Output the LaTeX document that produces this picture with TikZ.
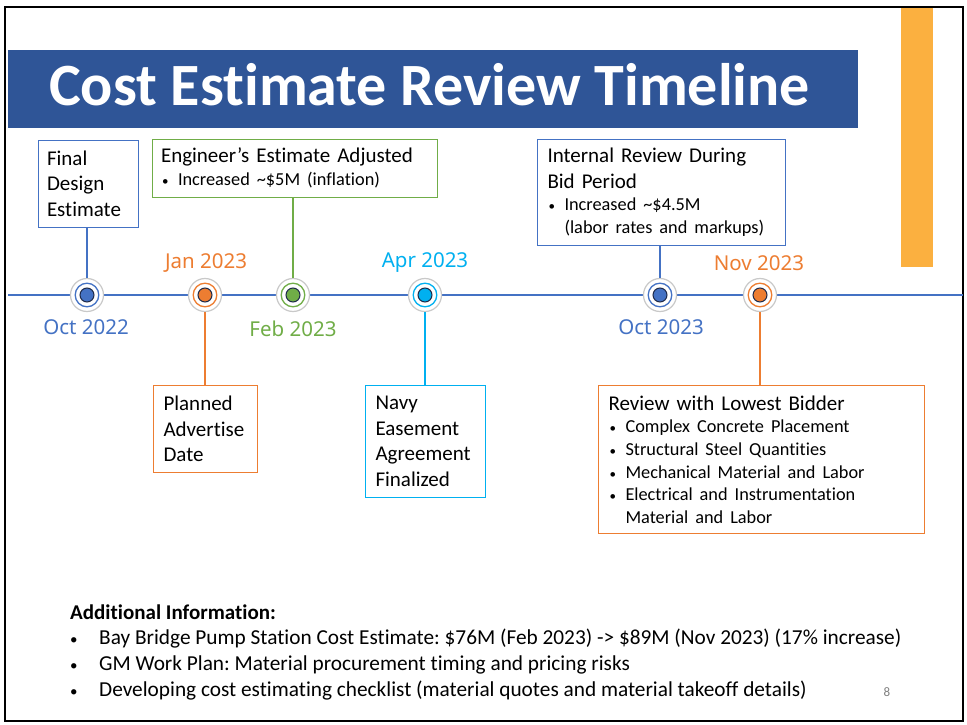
\documentclass[tikz,border=0pt]{standalone}
\usepackage{fontspec}
\setmainfont{Carlito}[Ligatures={NoCommon}]
\newfontfamily\datefont{Noto Sans}
\definecolor{cblue}{HTML}{4472C4}
\definecolor{corange}{HTML}{ED7D31}
\definecolor{cgreen}{HTML}{70AD47}
\definecolor{ccyan}{HTML}{00B0F0}
\definecolor{ctitle}{HTML}{2F5597}
\definecolor{cbar}{HTML}{FBB040}
\definecolor{ringgray}{HTML}{C9C9C9}
\definecolor{dotedge}{HTML}{1F2B4A}
\newcommand\bigf{\fontsize{21}{25.6}\selectfont}
\newcommand\smf{\fontsize{18.3}{22.6}\selectfont}
\newcommand\sdot{{\fontsize{13}{13}\selectfont\textbullet}}
\newcommand\ldot{{\fontsize{15}{15}\selectfont\textbullet}}
\newcommand\bul[1]{\hspace*{1pt}\makebox[16pt][l]{\sdot}#1}
\newcommand\tlmark[3]{%
  \node[ring] (#1) at (#2,295) {};
  \draw[#3, line width=1.3pt] (#1.center) circle[radius=11.8];
  \filldraw[fill=#3, draw=dotedge, line width=1pt] (#1.center) circle[radius=7];}
\begin{document}
\frenchspacing
\begin{tikzpicture}[x=1pt,y=-1pt,
  box/.style={draw, line width=1pt, anchor=north west, align=left, inner ysep=0pt, font=\bigf},
  ring/.style={circle, draw=ringgray, fill=white, line width=1.2pt, minimum size=33pt, inner sep=0pt},
  datelbl/.style={font=\datefont\fontsize{20.5}{24}\selectfont, inner sep=0pt},
  conn/.style={line width=1.2pt},
  info/.style={anchor=base west, inner sep=0pt, font=\fontsize{21.3}{25}\selectfont}]
\useasboundingbox (0,0) rectangle (967,725);
\fill[white] (0,0) rectangle (967,725);
% frame, bars
\fill[cbar] (901,7) rectangle (933,267);
\draw[line width=2.5pt] (5,7) rectangle (963,721);
\node[fill=ctitle, anchor=north west, minimum width=850pt, minimum height=78pt, inner sep=0pt] (titlebar) at (8,50) {};
\node[anchor=base west, inner sep=0pt, text=white, font=\bfseries\fontsize{60}{70}\selectfont] (title) at (49,106) {Cost Estimate Review Timeline};
% timeline
\coordinate (tl0) at (8,295);
\coordinate (tl1) at (963,295);
\draw[cblue, line width=1.5pt] (tl0) -- (tl1);
\tlmark{m1}{87}{cblue}
\tlmark{m2}{205}{corange}
\tlmark{m3}{293}{cgreen}
\tlmark{m4}{425}{ccyan}
\tlmark{m5}{660}{cblue}
\tlmark{m6}{760}{corange}
% dates
\node[datelbl, text=cblue] (d1) at (86,327) {Oct 2022};
\node[datelbl, text=corange] (d2) at (206,263) {Jan 2023};
\node[datelbl, text=cgreen] (d3) at (293,329) {Feb 2023};
\node[datelbl, text=ccyan] (d4) at (425,263) {Apr 2023};
\node[datelbl, text=cblue] (d5) at (661,327) {Oct 2023};
\node[datelbl, text=corange] (d6) at (759,263) {Nov 2023};
% boxes
\node[box, draw=cblue, minimum width=100pt, minimum height=87pt, text width=82pt, inner xsep=9pt] (b1) at (37.5,139.5) {Final\\Design\\Estimate};
\node[box, draw=cgreen, minimum width=285pt, minimum height=58pt, text width=267pt, inner xsep=9pt] (b3) at (151.5,138.5) {{\bigf Engineer’s Estimate Adjusted\par}{\smf\bul{Increased \textasciitilde\$5M (inflation)}\par}};
\node[box, draw=cblue, minimum width=248pt, minimum height=106pt, text width=228pt, inner xsep=10pt] (b5) at (537,138.5) {{\bigf Internal Review During\\Bid Period\par}{\smf\bul{Increased \textasciitilde\$4.5M}\\\hspace*{17pt}(labor rates and markups)\par}};
\node[box, draw=corange, minimum width=104pt, minimum height=87pt, text width=84pt, inner xsep=10pt] (b2) at (153,385) {Planned\\Advertise\\Date};
\node[box, draw=ccyan, minimum width=120pt, minimum height=112pt, text width=100pt, inner xsep=10pt] (b4) at (365,385) {Navy\\Easement\\Agreement\\Finalized};
\node[box, draw=corange, minimum width=326pt, minimum height=148pt, text width=306pt, inner xsep=10pt] (b6) at (598,385) {{\bigf Review with Lowest Bidder\par}{\smf\bul{Complex Concrete Placement}\\\bul{Structural Steel Quantities}\\\bul{Mechanical Material and Labor}\\\bul{Electrical and Instrumentation}\\\hspace*{17pt}Material and Labor\par}};
% connectors
\draw[conn, cblue] (m1) -- (m1 |- b1.south);
\draw[conn, corange] (m2) -- (m2 |- b2.north);
\draw[conn, cgreen] (m3) -- (m3 |- b3.south);
\draw[conn, ccyan] (m4) -- (m4 |- b4.north);
\draw[conn, cblue] (m5) -- (m5 |- b5.south);
\draw[conn, corange] (m6) -- (m6 |- b6.north);
% additional info
\node[info, font=\bfseries\fontsize{21}{25}\selectfont] (ai) at (70,619) {Additional Information:};
\node[info] (i1) at (70,644) {\makebox[29pt][l]{\ldot}Bay Bridge Pump Station Cost Estimate: \$76M (Feb 2023) -> \$89M (Nov 2023) (17\% increase)};
\node[info] (i2) at (70,670) {\makebox[29pt][l]{\ldot}GM Work Plan: Material procurement timing and pricing risks};
\node[info] (i3) at (70,696) {\makebox[29pt][l]{\ldot}Developing cost estimating checklist (material quotes and material takeoff details)};
\node[anchor=base, inner sep=0pt, text=gray, font=\fontsize{13}{15}\selectfont] (pg) at (887,696) {8};
\end{tikzpicture}
\end{document}
